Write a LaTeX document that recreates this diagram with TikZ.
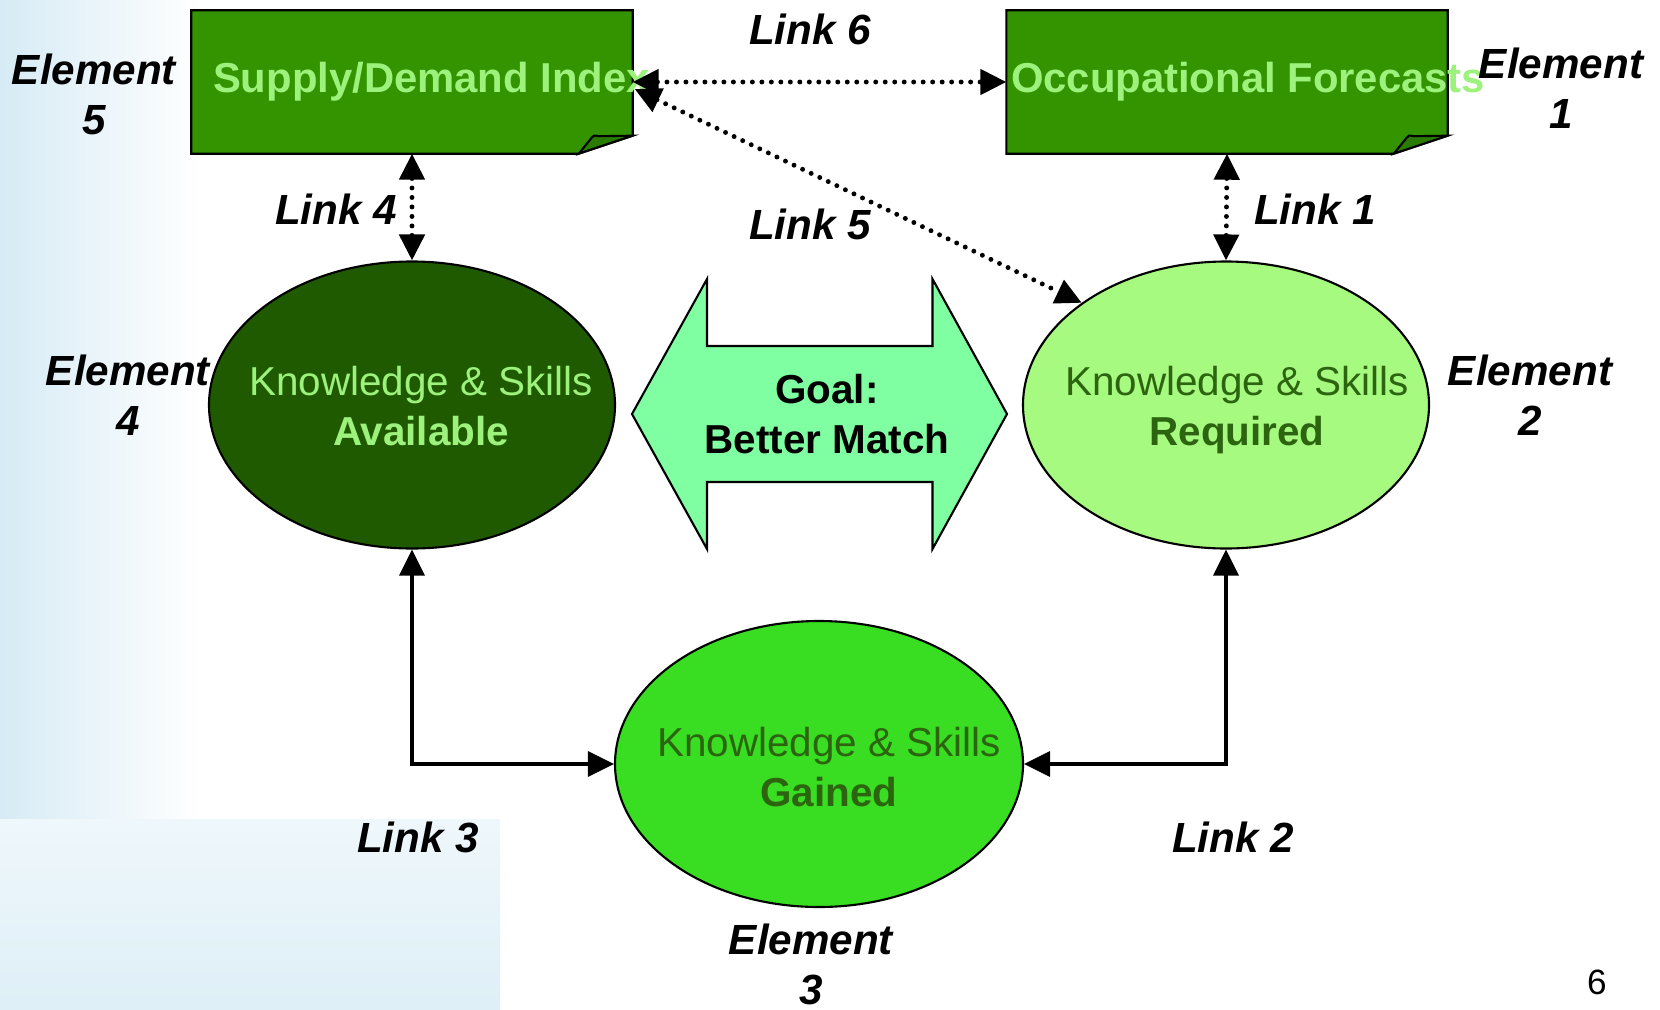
\documentclass[tikz,border=0pt]{standalone}
\usepackage{fontspec}
\setmainfont{Liberation Sans}
\usepackage{xcolor}
\usepackage{tikz}
\usetikzlibrary{positioning,arrows.meta,shapes.geometric,calc}
\definecolor{choja}{HTML}{339400}
\definecolor{choja2}{HTML}{2A7C00}
\definecolor{cclaro}{HTML}{9CF27C}
\definecolor{cdisp}{HTML}{1F5A00}
\definecolor{creq}{HTML}{A7FA80}
\definecolor{cgan}{HTML}{39DD21}
\definecolor{coscuro}{HTML}{2C6410}
\definecolor{cmeta}{HTML}{80FFA2}
\definecolor{cfondo}{HTML}{D6EBF5}
\tikzset{
  hoja/.style={rectangle, minimum width=4.40cm, minimum height=1.42cm, inner sep=0pt},
  txthoja/.style={font=\fontsize{11.9}{14}\selectfont\bfseries, text=cclaro, inner sep=0pt},
  elipse/.style={ellipse, draw=black, line width=0.6pt, minimum width=4.06cm,
    minimum height=2.87cm, inner sep=0pt},
  txtelipse/.style={align=center, inner sep=0pt, font=\fontsize{11.5}{14.2}\selectfont},
  meta/.style={align=center, inner sep=0pt, font=\fontsize{11.5}{14.2}\selectfont\bfseries},
  etq/.style={align=center, inner sep=0pt, font=\fontsize{12}{14.2}\selectfont\bfseries\itshape},
  punta/.tip={Triangle[length=2.6mm,width=2.5mm]},
  punteada/.style={punta-punta, line width=1.4pt, dash pattern=on 0pt off 2.7pt, line cap=round},
  flecha/.style={punta-punta, line width=0.9pt},
}
\begin{document}
\begin{tikzpicture}
  \useasboundingbox (0,0) rectangle (16.60,10.09);
  % fondo celeste
  \shade[left color=cfondo, right color=white] (0,0) rectangle (2.0,10.09);
  \shade[top color=cfondo!40, bottom color=cfondo!80] (0,0) rectangle (5.0,1.9);

  % hojas con la esquina doblada
  \node[hoja] (sdi) at (4.12,9.27) {};
  \node[hoja] (occ) at (12.27,9.27) {};
  \foreach \n in {sdi,occ}{
    \draw[line width=0.6pt, fill=choja] (\n.north west) -- (\n.north east)
      -- ($(\n.south east)+(0,0.18)$) -- ($(\n.south east)+(-0.54,0)$)
      -- (\n.south west) -- cycle;
    \draw[line width=0.6pt, fill=choja2] ($(\n.south east)+(-0.54,0)$)
      -- ($(\n.south east)+(-0.41,0.16)$)
      .. controls ($(\n.south east)+(-0.39,0.185)$) .. ($(\n.south east)+(-0.34,0.175)$)
      -- ($(\n.south east)+(0,0.18)$) -- cycle;
  }
  \node[txthoja, right=0.21cm of sdi.west] (sditxt) {Supply/Demand Index};
  \node[txthoja, right=0.04cm of occ.west] (occtxt) {Occupational Forecasts};

  % elipses
  \node[elipse, fill=cdisp] (disp) at (4.12,6.04) {};
  \node[elipse, fill=creq] (req) at (12.26,6.04) {};
  \node[elipse, fill=cgan, minimum width=4.08cm, minimum height=2.86cm] (gan) at (8.19,2.45) {};
  \node[txtelipse, text=cclaro, xshift=0.09cm, yshift=-0.01cm] (disptxt) at (disp) {Knowledge \& Skills\\\textbf{Available}};
  \node[txtelipse, text=coscuro, xshift=0.11cm, yshift=-0.05cm] (reqtxt) at (req) {Knowledge \& Skills\\\textbf{Required}};
  \node[txtelipse, text=coscuro, xshift=0.10cm, yshift=-0.03cm] (gantxt) at (gan) {Knowledge \& Skills\\\textbf{Gained}};

  % flecha doble del objetivo
  \coordinate (mc) at (8.195,5.95);
  \draw[line width=0.6pt, fill=cmeta] ($(mc)+(-1.875,0)$) -- ($(mc)+(-1.125,1.35)$)
    -- ($(mc)+(-1.125,0.68)$) -- ($(mc)+(1.13,0.68)$) -- ($(mc)+(1.13,1.35)$)
    -- ($(mc)+(1.875,0)$) -- ($(mc)+(1.13,-1.35)$) -- ($(mc)+(1.13,-0.68)$)
    -- ($(mc)+(-1.125,-0.68)$) -- ($(mc)+(-1.125,-1.35)$) -- cycle;
  \node[meta] (meta) at (8.27,5.95) {Goal:\\Better Match};

  % enlaces
  \draw[punteada] (sdi.east) -- (occ.west);
  \draw[punteada] ($(sdi.east)+(0.02,-0.07)$) -- (req.north west);
  \draw[punteada] (sdi.south) -- (disp.north);
  \draw[punteada] (occ.south) -- (req.north);
  \draw[flecha] (disp.south) |- (gan.west);
  \draw[flecha] (req.south) |- (gan.east);

  % etiquetas
  \node[etq] (l6) at (8.10,9.80) {Link 6};
  \node[etq] (l5) at (8.10,7.85) {Link 5};
  \node[etq] (l4) at (3.36,8.00) {Link 4};
  \node[etq] (l1) at (13.15,8.00) {Link 1};
  \node[etq] (l3) at (4.18,1.72) {Link 3};
  \node[etq] (l2) at (12.33,1.72) {Link 2};
  \node[etq] (e5) at (0.94,9.15) {Element\\5};
  \node[etq] (e1) at (15.61,9.21) {Element\\1};
  \node[etq] (e4) at (1.28,6.14) {Element\\4};
  \node[etq] (e2) at (15.30,6.14) {Element\\2};
  \node[etq] (e3) at (8.11,0.45) {Element\\3};
  \node[font=\fontsize{10}{12}\selectfont] (pag) at (15.97,0.27) {6};
\end{tikzpicture}
\end{document}
